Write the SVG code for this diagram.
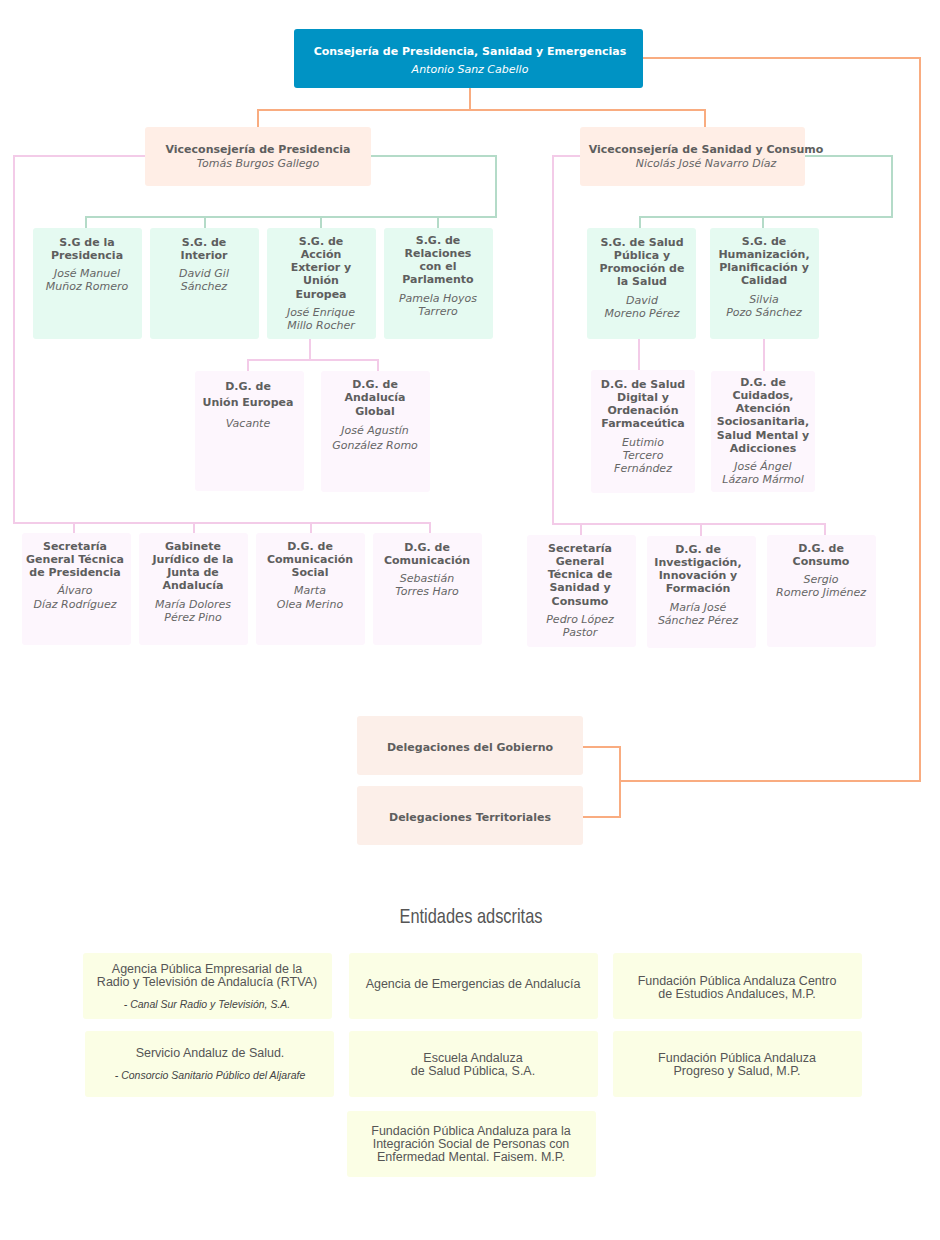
<svg xmlns="http://www.w3.org/2000/svg" width="940" height="1240" viewBox="0 0 940 1240">
<style>
text{font-family:"DejaVu Sans",Verdana,sans-serif;text-anchor:middle;fill:#5e5e5e}
.b{font-weight:bold;font-size:11px}
.i{font-style:italic;font-size:11px;fill:#666}
.e{font-family:"Liberation Sans",Arial,sans-serif;font-size:12.5px;fill:#555}
.ei{font-family:"Liberation Sans",Arial,sans-serif;font-size:10.5px;font-style:italic;fill:#444}
.sg{fill:#e5faf1}.dg{fill:#fdf6fd}.vc{fill:#ffeee6}.dl{fill:#fcefe9}.en{fill:#fbfee5}
.o,.g,.p{fill:none;stroke-width:2}
.o{stroke:#f9ac80}.g{stroke:#b4dbc8}.p{stroke:#f3cbe8}
</style>
<g id="connectors">
<path class="o" d="M470 88V110M258 127V110H705V127M643 58H920V781H620M583 747H620V817H583"/>
<path class="g" d="M371 156H496V217H86V228M205 217V228M321 217V228M438 217V228"/>
<path class="p" d="M145 156H14V523H430V533M74 523V533M194 523V533M311 523V533"/>
<path class="p" d="M248 371V360H378V371M310 339V360"/>
<path class="g" d="M805 156H892V217H640V228M763 217V228"/>
<path class="p" d="M580 156H553V524H825V535M581 524V535M701 524V536"/>
<path class="p" d="M639 339V370M764 339V371"/>
</g>
<g id="consejeria"><rect x="294" y="29" width="349" height="59" rx="3" fill="#0093c4"/>
<text class="b" x="470" y="55" style="fill:#fff">Consejería de Presidencia, Sanidad y Emergencias</text>
<text class="i" x="470" y="73" style="fill:#fff">Antonio Sanz Cabello</text></g>
<g id="vice-presidencia"><rect class="vc" x="145" y="127" width="226" height="59" rx="3"/>
<text class="b" x="258" y="153">Viceconsejería de Presidencia</text><text class="i" x="258" y="167">Tomás Burgos Gallego</text></g>
<g id="vice-sanidad"><rect class="vc" x="580" y="127" width="225" height="59" rx="3"/>
<text class="b" x="706" y="153">Viceconsejería de Sanidad y Consumo</text><text class="i" x="706" y="167">Nicolás José Navarro Díaz</text></g>

<g id="sg-presidencia"><rect class="sg" x="33" y="228" width="109" height="111" rx="3"/>
<text class="b" x="87" y="246">S.G de la</text><text class="b" x="87" y="259">Presidencia</text>
<text class="i" x="87" y="277">José Manuel</text><text class="i" x="87" y="290">Muñoz Romero</text></g>
<g id="sg-interior"><rect class="sg" x="150" y="228" width="109" height="111" rx="3"/>
<text class="b" x="204" y="246">S.G. de</text><text class="b" x="204" y="259">Interior</text>
<text class="i" x="204" y="277">David Gil</text><text class="i" x="204" y="290">Sánchez</text></g>
<g id="sg-accion"><rect class="sg" x="267" y="228" width="109" height="111" rx="3"/>
<text class="b" x="321" y="245">S.G. de</text><text class="b" x="321" y="258">Acción</text><text class="b" x="321" y="271">Exterior y</text><text class="b" x="321" y="284">Unión</text><text class="b" x="321" y="298">Europea</text>
<text class="i" x="321" y="316">José Enrique</text><text class="i" x="321" y="329">Millo Rocher</text></g>
<g id="sg-relaciones"><rect class="sg" x="384" y="228" width="109" height="111" rx="3"/>
<text class="b" x="438" y="244">S.G. de</text><text class="b" x="438" y="257">Relaciones</text><text class="b" x="438" y="270">con el</text><text class="b" x="438" y="283">Parlamento</text>
<text class="i" x="438" y="302">Pamela Hoyos</text><text class="i" x="438" y="315">Tarrero</text></g>

<g id="dg-ue"><rect class="dg" x="195" y="371" width="109" height="120" rx="3"/>
<text class="b" x="248" y="390">D.G. de</text><text class="b" x="248" y="406">Unión Europea</text><text class="i" x="248" y="427">Vacante</text></g>
<g id="dg-ag"><rect class="dg" x="321" y="371" width="109" height="121" rx="3"/>
<text class="b" x="375" y="388">D.G. de</text><text class="b" x="375" y="401">Andalucía</text><text class="b" x="375" y="415">Global</text>
<text class="i" x="375" y="434">José Agustín</text><text class="i" x="375" y="449">González Romo</text></g>

<g id="sgt-presidencia"><rect class="dg" x="22" y="533" width="109" height="112" rx="3"/>
<text class="b" x="75" y="550">Secretaría</text><text class="b" x="75" y="563">General Técnica</text><text class="b" x="75" y="576">de Presidencia</text>
<text class="i" x="75" y="594">Álvaro</text><text class="i" x="75" y="608">Díaz Rodríguez</text></g>
<g id="gabinete"><rect class="dg" x="139" y="533" width="109" height="112" rx="3"/>
<text class="b" x="193" y="550">Gabinete</text><text class="b" x="193" y="563">Jurídico de la</text><text class="b" x="193" y="576">Junta de</text><text class="b" x="193" y="589">Andalucía</text>
<text class="i" x="193" y="608">María Dolores</text><text class="i" x="193" y="621">Pérez Pino</text></g>
<g id="dg-com-social"><rect class="dg" x="256" y="533" width="109" height="112" rx="3"/>
<text class="b" x="310" y="550">D.G. de</text><text class="b" x="310" y="563">Comunicación</text><text class="b" x="310" y="576">Social</text>
<text class="i" x="310" y="594">Marta</text><text class="i" x="310" y="608">Olea Merino</text></g>
<g id="dg-com"><rect class="dg" x="373" y="533" width="109" height="112" rx="3"/>
<text class="b" x="427" y="551">D.G. de</text><text class="b" x="427" y="564">Comunicación</text>
<text class="i" x="427" y="582">Sebastián</text><text class="i" x="427" y="595">Torres Haro</text></g>

<g id="sg-salud"><rect class="sg" x="587" y="228" width="109" height="111" rx="3"/>
<text class="b" x="642" y="246">S.G. de Salud</text><text class="b" x="642" y="259">Pública y</text><text class="b" x="642" y="272">Promoción de</text><text class="b" x="642" y="285">la Salud</text>
<text class="i" x="642" y="304">David</text><text class="i" x="642" y="317">Moreno Pérez</text></g>
<g id="sg-humanizacion"><rect class="sg" x="710" y="228" width="109" height="111" rx="3"/>
<text class="b" x="764" y="245">S.G. de</text><text class="b" x="764" y="258">Humanización,</text><text class="b" x="764" y="271">Planificación y</text><text class="b" x="764" y="284">Calidad</text>
<text class="i" x="764" y="303">Silvia</text><text class="i" x="764" y="316">Pozo Sánchez</text></g>
<g id="dg-salud-digital"><rect class="dg" x="591" y="370" width="104" height="123" rx="3"/>
<text class="b" x="643" y="388">D.G. de Salud</text><text class="b" x="643" y="401">Digital y</text><text class="b" x="643" y="414">Ordenación</text><text class="b" x="643" y="427">Farmaceútica</text>
<text class="i" x="643" y="446">Eutimio</text><text class="i" x="643" y="459">Tercero</text><text class="i" x="643" y="472">Fernández</text></g>
<g id="dg-cuidados"><rect class="dg" x="711" y="371" width="104" height="121" rx="3"/>
<text class="b" x="763" y="386">D.G. de</text><text class="b" x="763" y="399">Cuidados,</text><text class="b" x="763" y="412">Atención</text><text class="b" x="763" y="425">Sociosanitaria,</text><text class="b" x="763" y="439">Salud Mental y</text><text class="b" x="763" y="452">Adicciones</text>
<text class="i" x="763" y="470">José Ángel</text><text class="i" x="763" y="483">Lázaro Mármol</text></g>
<g id="sgt-sanidad"><rect class="dg" x="527" y="535" width="109" height="112" rx="3"/>
<text class="b" x="580" y="552">Secretaría</text><text class="b" x="580" y="565">General</text><text class="b" x="580" y="578">Técnica de</text><text class="b" x="580" y="591">Sanidad y</text><text class="b" x="580" y="605">Consumo</text>
<text class="i" x="580" y="623">Pedro López</text><text class="i" x="580" y="636">Pastor</text></g>
<g id="dg-investigacion"><rect class="dg" x="647" y="536" width="109" height="112" rx="3"/>
<text class="b" x="698" y="553">D.G. de</text><text class="b" x="698" y="566">Investigación,</text><text class="b" x="698" y="579">Innovación y</text><text class="b" x="698" y="592">Formación</text>
<text class="i" x="698" y="611">María José</text><text class="i" x="698" y="624">Sánchez Pérez</text></g>
<g id="dg-consumo"><rect class="dg" x="767" y="535" width="109" height="112" rx="3"/>
<text class="b" x="821" y="552">D.G. de</text><text class="b" x="821" y="565">Consumo</text>
<text class="i" x="821" y="583">Sergio</text><text class="i" x="821" y="596">Romero Jiménez</text></g>

<g id="del-gobierno"><rect class="dl" x="357" y="716" width="226" height="59" rx="3"/><text class="b" x="470" y="751">Delegaciones del Gobierno</text></g>
<g id="del-territoriales"><rect class="dl" x="357" y="786" width="226" height="59" rx="3"/><text class="b" x="470" y="821">Delegaciones Territoriales</text></g>

<text transform="translate(471 923) scale(0.82 1)" x="0" y="0" style="font-family:'Liberation Sans',Arial,sans-serif;font-size:20px;fill:#555">Entidades adscritas</text>

<g id="ent-rtva"><rect class="en" x="83" y="953" width="249" height="66" rx="3"/>
<text class="e" x="207" y="973">Agencia Pública Empresarial de la</text><text class="e" x="207" y="986">Radio y Televisión de Andalucía (RTVA)</text><text class="ei" x="207" y="1008">- Canal Sur Radio y Televisión, S.A.</text></g>
<g id="ent-emergencias"><rect class="en" x="349" y="953" width="249" height="66" rx="3"/><text class="e" x="473" y="988">Agencia de Emergencias de Andalucía</text></g>
<g id="ent-centra"><rect class="en" x="613" y="953" width="249" height="66" rx="3"/><text class="e" x="737" y="985">Fundación Pública Andaluza Centro</text><text class="e" x="737" y="998">de Estudios Andaluces, M.P.</text></g>
<g id="ent-sas"><rect class="en" x="85" y="1031" width="249" height="66" rx="3"/><text class="e" x="210" y="1057">Servicio Andaluz de Salud.</text><text class="ei" x="210" y="1079">- Consorcio Sanitario Público del Aljarafe</text></g>
<g id="ent-easp"><rect class="en" x="349" y="1031" width="249" height="66" rx="3"/><text class="e" x="473" y="1062">Escuela Andaluza</text><text class="e" x="473" y="1075">de Salud Pública, S.A.</text></g>
<g id="ent-progreso"><rect class="en" x="613" y="1031" width="249" height="66" rx="3"/><text class="e" x="737" y="1062">Fundación Pública Andaluza</text><text class="e" x="737" y="1075">Progreso y Salud, M.P.</text></g>
<g id="ent-faisem"><rect class="en" x="347" y="1111" width="249" height="66" rx="3"/><text class="e" x="471" y="1135">Fundación Pública Andaluza para la</text><text class="e" x="471" y="1148">Integración Social de Personas con</text><text class="e" x="471" y="1161">Enfermedad Mental. Faisem. M.P.</text></g>
</svg>
